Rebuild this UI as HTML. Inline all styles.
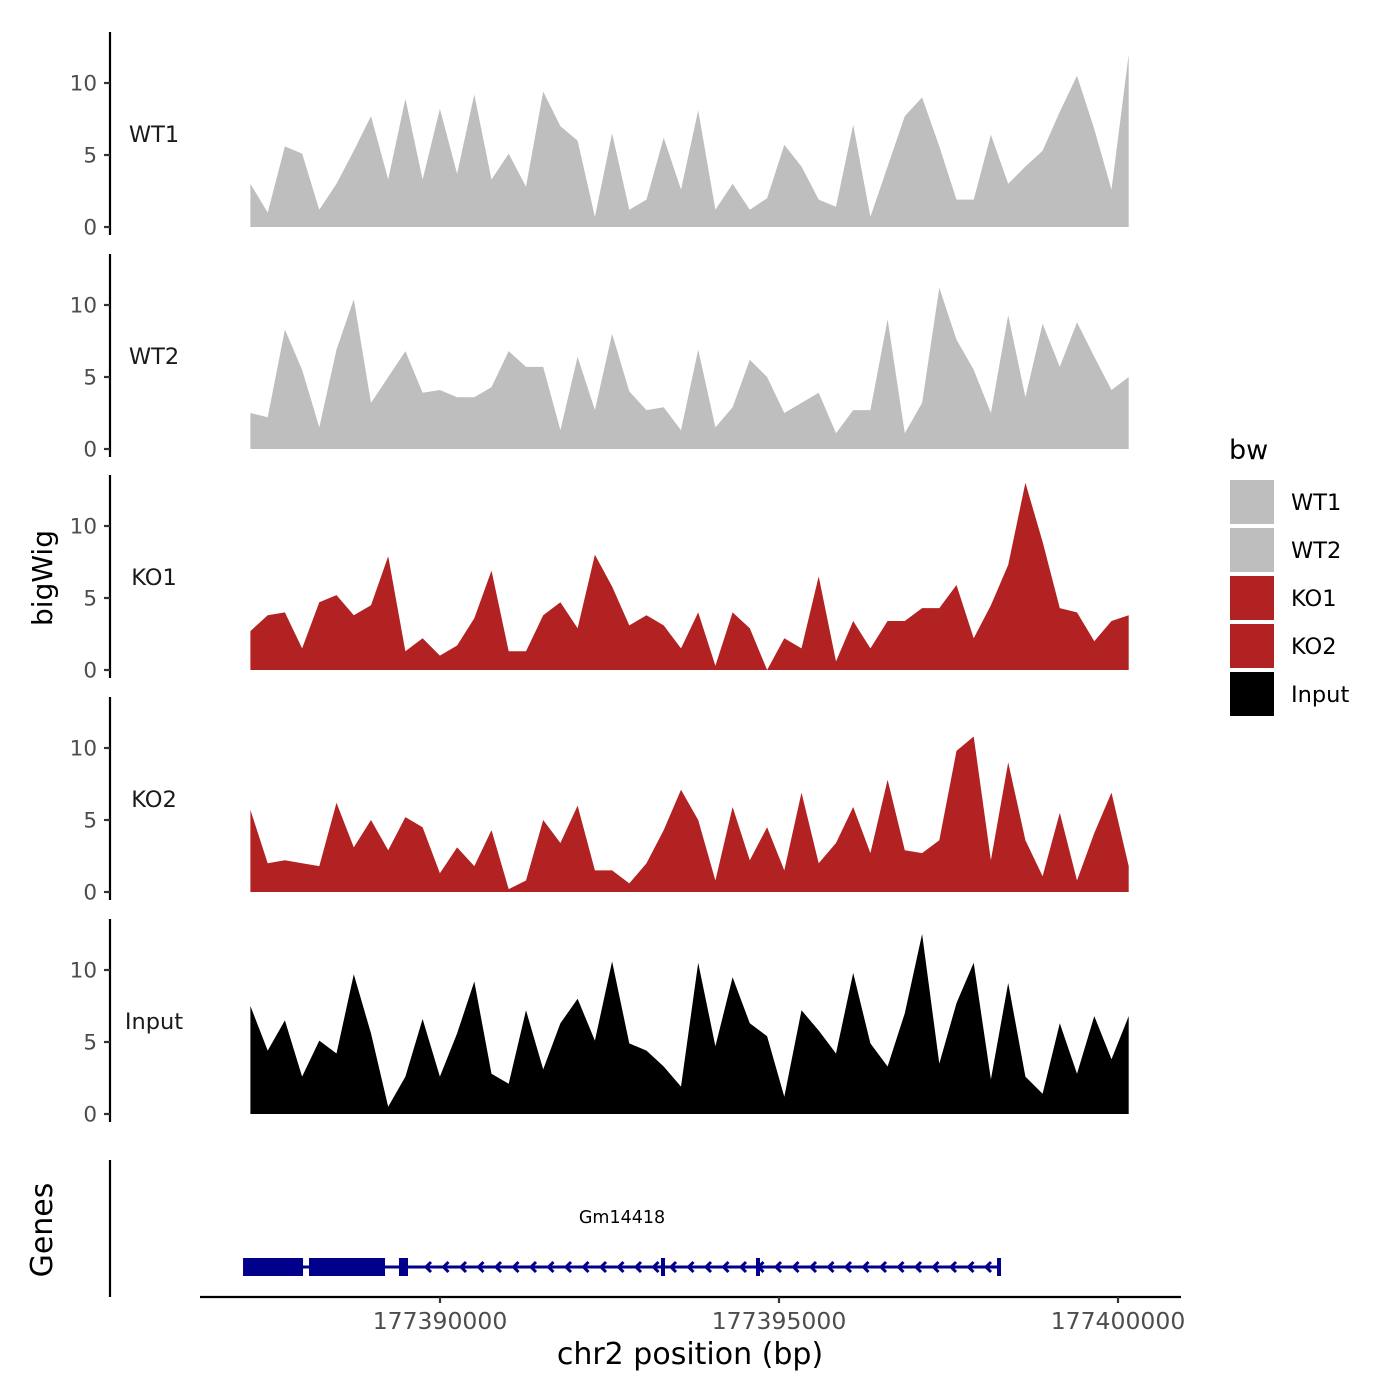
<!DOCTYPE html>
<html><head><meta charset="utf-8"><style>
html,body{margin:0;padding:0;background:#fff}
svg{display:block;font-family:"DejaVu Sans","Liberation Sans",sans-serif}
</style></head><body>
<svg id="chart" width="1400" height="1400" viewBox="0 0 1400 1400" xmlns="http://www.w3.org/2000/svg"></svg>
<script>
// ---- data ----
const trackNames = ["WT1","WT2","KO1","KO2","Input"];
const trackColors = ["#bebebe","#bebebe","#b22222","#b22222","#000000"];
const startBp = 177387204;
const stepBp = 254;
const wt1Values = [3,1,5.6,5.1,1.2,3,5.3,7.7,3.3,8.9,3.3,8.2,3.7,9.2,3.3,5.1,2.8,9.4,7,6,0.7,6.5,1.2,1.9,6.2,2.6,8.1,1.2,3,1.2,2,5.7,4.2,1.9,1.4,7.1,0.7,4.2,7.7,9,5.6,1.9,1.9,6.4,3,4.2,5.3,8,10.5,6.8,2.6,12];
const wt2Values = [2.5,2.2,8.3,5.5,1.5,6.9,10.4,3.2,5,6.8,3.9,4.1,3.6,3.6,4.3,6.8,5.7,5.7,1.3,6.4,2.7,8,4,2.7,2.9,1.3,6.9,1.5,2.9,6.2,5,2.5,3.2,3.9,1.1,2.7,2.7,9,1.1,3.2,11.2,7.6,5.5,2.5,9.3,3.6,8.7,5.7,8.8,6.4,4.1,5];
const ko1Values = [2.7,3.8,4,1.5,4.7,5.2,3.8,4.5,7.9,1.3,2.2,1,1.7,3.6,6.9,1.3,1.3,3.8,4.7,2.9,8,5.8,3.1,3.8,3.1,1.5,4,0.3,4,2.9,0,2.2,1.5,6.5,0.6,3.4,1.5,3.4,3.4,4.3,4.3,5.9,2.2,4.5,7.3,13,8.9,4.3,4,2,3.4,3.8];
const ko2Values = [5.7,2,2.2,2,1.8,6.2,3.1,5,2.9,5.2,4.5,1.3,3.1,1.8,4.3,0.2,0.8,5,3.4,6,1.5,1.5,0.6,2,4.3,7.1,5,0.8,5.9,2.2,4.5,1.5,6.9,2,3.4,5.9,2.7,7.8,2.9,2.7,3.6,9.8,10.8,2.2,9,3.6,1.1,5.5,0.8,4.1,6.9,1.8];
const inputValues = [7.5,4.4,6.5,2.6,5.1,4.2,9.7,5.6,0.5,2.6,6.6,2.6,5.6,9.2,2.8,2.1,7.2,3.1,6.3,8,5.1,10.6,4.9,4.4,3.3,1.9,10.5,4.7,9.5,6.3,5.4,1.2,7.2,5.8,4.2,9.8,4.9,3.3,7,12.5,3.5,7.7,10.5,2.4,9.1,2.6,1.4,6.3,2.8,6.8,3.8,6.8];
const seriesValues = [wt1Values, wt2Values, ko1Values, ko2Values, inputValues];
const yTicks = [0,5,10];
const xTicks = [177390000,177395000,177400000];
const xTickLabels = ["177390000","177395000","177400000"];
const geneName = "Gm14418";
const geneStart = 177387095, geneEnd = 177398245;
const exonStarts = [177387095,177388068,177389395];
const exonEnds = [177387980,177389189,177389528];
const intronTicks = [177393289,177394690,177398245];
const legendLabels = ["WT1","WT2","KO1","KO2","Input"];

// ---- scales ----
const xScale = bp => 440 + (bp - 177390000) * 339 / 5000;
const panelBase = [227, 449, 670, 892, 1114];
const yUnit = 14.4;
const yScale = (i, v) => panelBase[i] - v * yUnit;

const svg = document.getElementById('chart');
const NS = "http://www.w3.org/2000/svg";
function mk(tag, attrs, parent){ const e=document.createElementNS(NS,tag); for(const k in attrs) e.setAttribute(k,attrs[k]); (parent||svg).appendChild(e); return e; }

// panels
trackNames.forEach((name, i) => {
  const g = mk('g', {});
  
  
  const vals = seriesValues[i];
  let d = 'M' + xScale(startBp).toFixed(1) + ',' + panelBase[i];
  vals.forEach((v, j) => { d += ' L' + xScale(startBp + j*stepBp).toFixed(1) + ',' + yScale(i, v).toFixed(1); });
  d += ' L' + xScale(startBp + (vals.length-1)*stepBp).toFixed(1) + ',' + panelBase[i] + ' Z';
  const area = mk('path', {d: d, fill: trackColors[i]}, g);
  
  
  const ax = mk('line', {x1:110, x2:110, y1:panelBase[i]-195, y2:panelBase[i]+8, stroke:'#000', 'stroke-width':2.2}, g);
  
  
  yTicks.forEach(t => {
    const y = yScale(i, t);
    const tk = mk('line', {x1:104, x2:110, y1:y, y2:y, stroke:'#333', 'stroke-width':2.2}, g);
    
    
    const tl = mk('text', {x:97, y:y+7.5, 'text-anchor':'end', 'font-size':21.5, fill:'#4d4d4d'}, g);
    tl.textContent = t;
    
    
  });
  const lab = mk('text', {x:154, y:panelBase[i]-85, 'text-anchor':'middle', 'font-size':22.5, fill:'#1a1a1a'}, g);
  lab.textContent = name;
  
  
});

// gene track
const gg = mk('g', {});


const gax = mk('line', {x1:110, x2:110, y1:1160, y2:1297, stroke:'#000', 'stroke-width':2.2}, gg);


const gline = mk('line', {x1:xScale(geneStart), x2:xScale(geneEnd), y1:1267, y2:1267, stroke:'#00008b', 'stroke-width':3}, gg);


for (let x = xScale(exonEnds[2]) + 18; x < xScale(geneEnd) - 6; x += 17.5) {
  const ar = mk('path', {d:`M${x+5},${1262} L${x},${1267} L${x+5},${1272}`, fill:'none', stroke:'#00008b', 'stroke-width':3}, gg);
  
  
}
exonStarts.forEach((s, k) => {
  const ex = mk('rect', {x:xScale(s), y:1258, width:xScale(exonEnds[k])-xScale(s), height:18, fill:'#00008b'}, gg);
  
  
});
intronTicks.forEach(b => {
  const t = mk('rect', {x:xScale(b)-2, y:1258, width:4, height:18, fill:'#00008b'}, gg);
  
  
});
const gn = mk('text', {x:622, y:1223, 'text-anchor':'middle', 'font-size':17.5, fill:'#000'}, gg);
gn.textContent = geneName;



// x axis
const xa = mk('line', {x1:200, x2:1181, y1:1297, y2:1297, stroke:'#000', 'stroke-width':2.2});


xTicks.forEach((b, k) => {
  const x = xScale(b);
  const tk = mk('line', {x1:x, x2:x, y1:1297, y2:1303, stroke:'#333', 'stroke-width':2.2});
  
  
  const tl = mk('text', {x:x, y:1329, 'text-anchor':'middle', 'font-size':23.5, fill:'#4d4d4d'});
  tl.textContent = xTickLabels[k];
  
  
});
const xt = mk('text', {x:690, y:1364, 'text-anchor':'middle', 'font-size':30, fill:'#000'});
xt.textContent = 'chr2 position (bp)';


const yt = mk('text', {x:0, y:0, 'text-anchor':'middle', 'font-size':28, fill:'#000', transform:'translate(52,578) rotate(-90)'});
yt.textContent = 'bigWig';


const gt = mk('text', {x:0, y:0, 'text-anchor':'middle', 'font-size':30, fill:'#000', transform:'translate(52,1230) rotate(-90)'});
gt.textContent = 'Genes';



// legend
const lg = mk('g', {});


const ltitle = mk('text', {x:1229, y:459, 'font-size':27, fill:'#000'}, lg);
ltitle.textContent = 'bw';


legendLabels.forEach((l, k) => {
  const r = mk('rect', {x:1230, y:480 + k*48, width:44, height:44, fill:trackColors[k]}, lg);
  
  
  const t = mk('text', {x:1291, y:510 + k*48, 'font-size':22.5, fill:'#000'}, lg);
  t.textContent = l;
  
  
});
</script>
</body></html>
